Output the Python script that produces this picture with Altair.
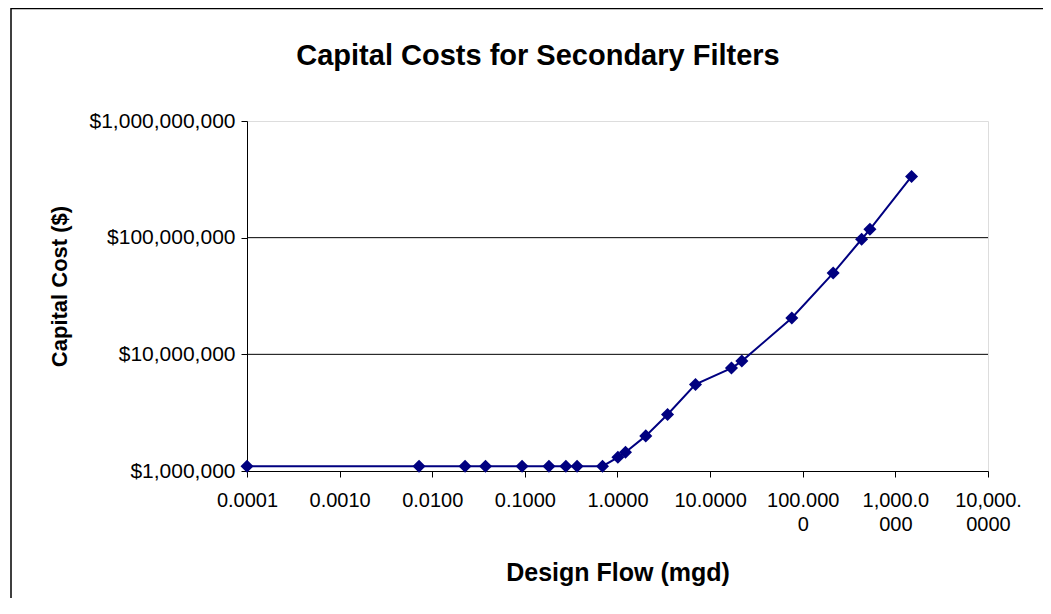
import altair as alt
import pandas as pd

# Data (log-log)
flow_mgd = [0.0001, 0.0072, 0.0226, 0.0376, 0.0933, 0.182, 0.277, 0.366, 0.689,
            1.01, 1.22, 2.02, 3.47, 6.95, 17.0, 22.0, 76.2, 213, 432, 531, 1496]
capital_cost = [1100000, 1100000, 1100000, 1100000, 1100000, 1100000, 1100000, 1100000, 1100000,
                1310000, 1450000, 2000000, 3050000, 5520000, 7620000, 8750000,
                20500000, 49700000, 96900000, 118000000, 335000000]

x_tick_values = [0.0001, 0.001, 0.01, 0.1, 1, 10, 100, 1000, 10000]
x_tick_labels = ["0.0001", "0.0010", "0.0100", "0.1000", "1.0000", "10.0000",
                 "100.000|0", "1,000.0|000", "10,000.|0000"]
y_tick_values = [1000000, 10000000, 100000000, 1000000000]
grid_values = [10000000, 100000000]
chart_title = ["Capital Costs for Secondary Filters"]

FONT = "Liberation Sans"
NAVY = "#000080"

df = pd.DataFrame({"flow": flow_mgd, "cost": capital_cost})
grid_df = pd.DataFrame({"cost": grid_values})
title_df = pd.DataFrame({"title": chart_title})

label_array = "[" + ",".join("'" + s + "'" for s in x_tick_labels) + "]"
x_label_expr = "split(" + label_array + "[round(log(datum.value)/LN10)+4], '|')"

x_enc = alt.X(
    "flow:Q",
    scale=alt.Scale(type="log", domain=[0.0001, 10000]),
    axis=alt.Axis(
        values=x_tick_values,
        labelExpr=x_label_expr,
        title="Design Flow (mgd)",
        grid=False,
        labelFont=FONT, labelFontSize=20, labelColor="black",
        labelBaseline="top", labelPadding=13, labelLineHeight=24,
        labelOverlap=False, labelFlush=False, labelBound=False,
        tickSize=6, tickColor="black", domainColor="black", domainWidth=1,
        titleFont=FONT, titleFontSize=25, titleFontWeight="bold", titleColor="black",
        titleX=370.5, titleY=101, titleAlign="center", titleBaseline="middle",
    ),
)

y_enc = alt.Y(
    "cost:Q",
    scale=alt.Scale(type="log", domain=[1000000, 1000000000]),
    axis=alt.Axis(
        values=y_tick_values,
        format="$,.0f",
        title="Capital Cost ($)",
        grid=False,
        labelFont=FONT, labelFontSize=21, labelColor="black",
        labelPadding=6, labelOverlap=False, labelFlush=False, labelBound=False,
        tickSize=6, tickColor="black", domainColor="black", domainWidth=1,
        titleFont=FONT, titleFontSize=22, titleFontWeight="bold", titleColor="black",
        titleX=-188, titleY=165, titleAngle=270, titleAlign="center", titleBaseline="middle",
    ),
)

grid = alt.Chart(grid_df).mark_rule(color="black", strokeWidth=1).encode(y=y_enc)

line = alt.Chart(df).mark_line(color=NAVY, strokeWidth=2).encode(x=x_enc, y=y_enc)

points = alt.Chart(df).mark_point(
    shape="diamond", filled=True, size=170, color=NAVY, opacity=1
).encode(x=x_enc, y=y_enc)

border = alt.Chart(pd.DataFrame({"k": [0]})).mark_rect(
    filled=False, stroke="black", strokeWidth=1.5, color="black"
).encode(
    x=alt.value(-236), y=alt.value(-112.5), x2=alt.value(1000), y2=alt.value(700)
)

title = alt.Chart(title_df).mark_text(
    font=FONT, fontSize=29, fontWeight="bold", color="black",
    align="center", baseline="middle"
).encode(text="title:N", x=alt.value(291), y=alt.value(-65))

chart = alt.layer(grid, line, points, border, title).properties(
    width=741,
    height=350,
    autosize=alt.AutoSizeParams(type="none"),
    padding={"left": 239, "top": 113, "right": 55, "bottom": 127},
).configure_view(
    stroke="#808080", strokeWidth=1
).configure(background="white")

chart.save("out.html", embed_options={"renderer": "svg", "actions": False})
